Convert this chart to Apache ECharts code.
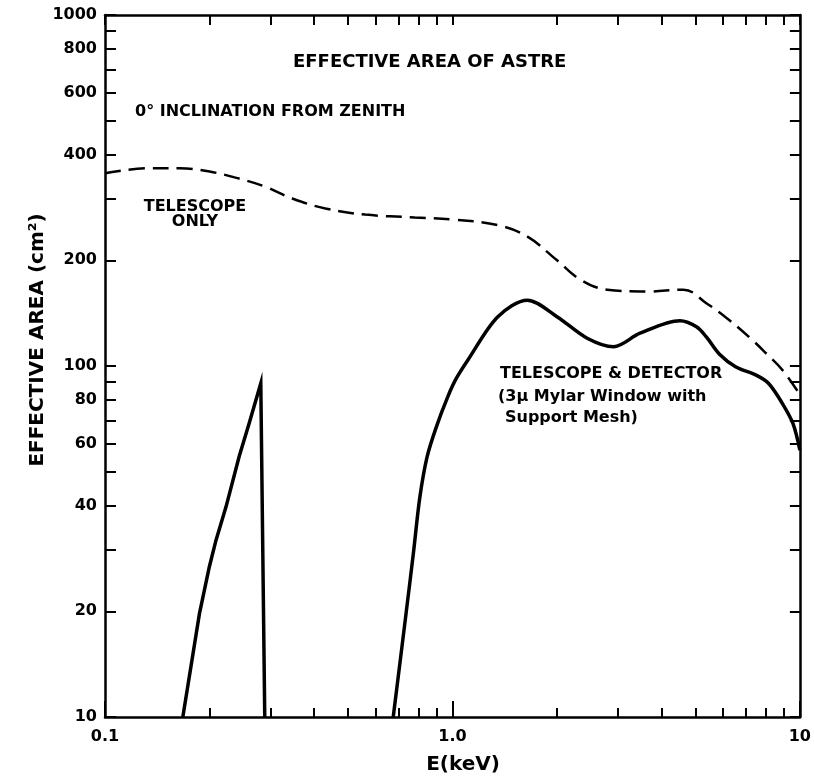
<!DOCTYPE html>
<html><head><meta charset="utf-8">
<script src="https://cdn.jsdelivr.net/npm/echarts@6/dist/echarts.min.js"></script>
<style>html,body{margin:0;padding:0;background:#fff}#c{width:814px;height:778px}</style>
</head><body><div id="c"></div>
<script>
// Telescope only (dashed)
const energyTelescope = [0.1, 0.134, 0.164, 0.2, 0.243, 0.29, 0.346, 0.431, 0.561, 0.779, 1.01, 1.35, 1.64, 2.0, 2.34, 2.79, 3.63, 4.62, 5.38, 6.27, 7.3, 8.12, 8.9, 10];
const areaTelescope   = [354, 366, 366, 358, 342, 324, 300, 281, 270, 265, 261, 252, 234, 200, 176, 165, 163, 165, 151, 135, 118.6, 107, 97.5, 83];
// Telescope & detector, low-energy spike
const energySpike = [0.1675, 0.187, 0.1997, 0.2087, 0.223, 0.2433, 0.26, 0.2808, 0.2883];
const areaSpike   = [10, 19.7, 26.8, 31.9, 39.7, 55.2, 68.7, 89.3, 10];
// Telescope & detector, main band
const energyDetector = [0.6755, 0.7353, 0.7739, 0.805, 0.845, 0.899, 0.97, 1.025, 1.108, 1.349, 1.644, 2.004, 2.442, 2.911, 3.468, 4.516, 5.04, 5.38, 5.87, 6.53, 7.48, 8.12, 8.9, 9.55, 10];
const areaDetector   = [10, 19.7, 29.9, 42, 55, 67.1, 81.8, 92, 104, 138, 154, 138, 120, 113.5, 124, 134.6, 129.4, 121, 108, 99.5, 94.2, 89.3, 78.3, 68.6, 57.6];

const xMajorTicks = [0.1, 1, 10];
const xTickLabels = ['0.1', '1.0', '10'];
const xMinorTicks = [0.2, 0.3, 0.4, 0.5, 0.6, 0.7, 0.8, 0.9, 2, 3, 4, 5, 6, 7, 8, 9];
const yTicks = [10, 20, 30, 40, 50, 60, 70, 80, 90, 100, 200, 300, 400, 500, 600, 700, 800, 900, 1000];
const yLabelValues = [10, 20, 40, 60, 80, 100, 200, 400, 600, 800, 1000];
const yTickLabels = ['10', '20', '40', '60', '80', '100', '200', '400', '600', '800', '1000'];

const zip = (a, b) => a.map((v, i) => [v, b[i]]);
const FONT = 'DejaVu Sans';
const near = (a, b) => Math.abs(a - b) / b < 1e-6;
function labelFor(values, labels) {
  return v => { const i = values.findIndex(t => near(v, t)); return i >= 0 ? labels[i] : ''; };
}
const axisLine = { show: true, lineStyle: { color: '#000', width: 2.5 } };
const baseX = { type: 'log', logBase: 10, min: 0.1, max: 10, splitLine: { show: false } };
const baseY = { type: 'log', logBase: 10, min: 10, max: 1000, splitLine: { show: false } };
const tickLabelStyle = { fontFamily: FONT, fontSize: 16, fontWeight: 'bold', color: '#000' };

const chart = echarts.init(document.getElementById('c'), null, { renderer: 'canvas' });
chart.setOption({
  backgroundColor: '#fff',
  animation: false,
  grid: { left: 105, right: 10, top: 15, bottom: 61 },
  xAxis: [
    Object.assign({}, baseX, {
      position: 'bottom', axisLine,
      axisTick: { inside: true, length: 16, lineStyle: { color: '#000', width: 2 }, customValues: xMajorTicks },
      axisLabel: Object.assign({}, tickLabelStyle, { margin: 12, customValues: xMajorTicks, formatter: labelFor(xMajorTicks, xTickLabels) })
    }),
    Object.assign({}, baseX, {
      position: 'bottom', axisLine: { show: false },
      axisTick: { inside: true, length: 9, lineStyle: { color: '#000', width: 2 }, customValues: xMinorTicks },
      axisLabel: { show: false }
    }),
    Object.assign({}, baseX, {
      position: 'top', axisLine,
      axisTick: { inside: true, length: 10, lineStyle: { color: '#000', width: 2 }, customValues: xMinorTicks.concat(xMajorTicks) },
      axisLabel: { show: false }
    })
  ],
  yAxis: [
    Object.assign({}, baseY, {
      position: 'left', axisLine,
      axisTick: { inside: true, length: 11, lineStyle: { color: '#000', width: 2 }, customValues: yTicks },
      axisLabel: Object.assign({}, tickLabelStyle, { margin: 8, customValues: yLabelValues, formatter: labelFor(yLabelValues, yTickLabels) })
    }),
    Object.assign({}, baseY, {
      position: 'right', axisLine,
      axisTick: { inside: true, length: 10, lineStyle: { color: '#000', width: 2 }, customValues: yTicks },
      axisLabel: { show: false }
    })
  ],
  series: [
    { type: 'line', name: 'Telescope only', data: zip(energyTelescope, areaTelescope), showSymbol: false, smooth: 0.4,
      lineStyle: { color: '#000', width: 2.5, type: [16, 8] } },
    { type: 'line', name: 'Spike', data: zip(energySpike, areaSpike), showSymbol: false, smooth: false,
      lineStyle: { color: '#000', width: 3.5, join: 'miter' } },
    { type: 'line', name: 'Telescope & detector', data: zip(energyDetector, areaDetector), showSymbol: false, smooth: 0.32,
      lineStyle: { color: '#000', width: 3.5 } }
  ],
  graphic: [
    { type: 'text', x: 293, y: 62, style: { text: 'EFFECTIVE AREA OF ASTRE', font: `bold 18px "${FONT}"`, fill: '#000', verticalAlign: 'middle' } },
    { type: 'text', x: 135, y: 112, style: { text: '0° INCLINATION FROM ZENITH', font: `bold 16px "${FONT}"`, fill: '#000', verticalAlign: 'middle' } },
    { type: 'text', x: 195, y: 214, style: { text: 'TELESCOPE\nONLY', font: `bold 16px "${FONT}"`, fill: '#000', align: 'center', verticalAlign: 'middle', lineHeight: 15 } },
    { type: 'text', x: 500, y: 374, style: { text: 'TELESCOPE & DETECTOR', font: `bold 16px "${FONT}"`, fill: '#000', verticalAlign: 'middle' } },
    { type: 'text', x: 498, y: 397, style: { text: '(3μ Mylar Window with', font: `bold 16px "${FONT}"`, fill: '#000', verticalAlign: 'middle' } },
    { type: 'text', x: 505, y: 418, style: { text: 'Support Mesh)', font: `bold 16px "${FONT}"`, fill: '#000', verticalAlign: 'middle' } },
    { type: 'text', x: 463, y: 765, style: { text: 'E(keV)', font: `bold 20px "${FONT}"`, fill: '#000', align: 'center', verticalAlign: 'middle' } },
    { type: 'text', x: 38, y: 340, rotation: Math.PI / 2, style: { text: 'EFFECTIVE AREA (cm²)', font: `bold 20px "${FONT}"`, fill: '#000', align: 'center', verticalAlign: 'middle' } }
  ]
});
</script></body></html>
